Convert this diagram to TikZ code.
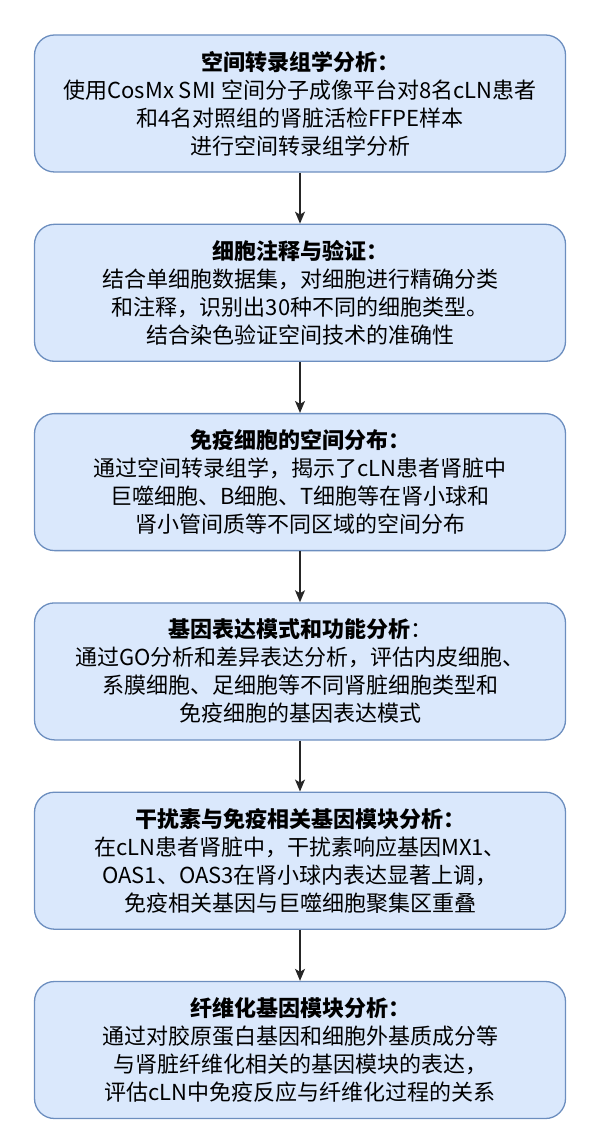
\documentclass[tikz,border=0pt]{standalone}
\usepackage{fontspec}
\setmainfont{Noto Sans CJK SC}
\usetikzlibrary{positioning,arrows.meta}
\definecolor{boxfill}{HTML}{DAE8FC}
\definecolor{boxline}{HTML}{6C8EBF}

\begin{document}
\begin{tikzpicture}[
        x=1pt, y=-1pt,
        stage/.style={rectangle, rounded corners=20pt, draw=boxline, line width=1.3pt, fill=boxfill,
            minimum width=531pt, minimum height=137pt, align=center,
            font=\fontsize{22}{28}\selectfont},
        flow/.style={-{Stealth[length=12pt, width=10pt, inset=3pt]}, line width=1.4pt, draw=black!85}
    ]
        \useasboundingbox (0,0) rectangle (600,1147);

        % Stages
        \node[stage] (spatial) at (300,103.5) {\textbf{空间转录组学分析：}\\使用CosMx SMI 空间分子成像平台对8名cLN患者\\和4名对照组的肾脏活检FFPE样本\\进行空间转录组学分析};
        \node[stage, below=51pt of spatial] (annot) {\textbf{细胞注释与验证：}\\结合单细胞数据集，对细胞进行精确分类\\和注释，识别出30种不同的细胞类型。\\结合染色验证空间技术的准确性};
        \node[stage, below=51pt of annot] (immune) {\textbf{免疫细胞的空间分布：}\\通过空间转录组学，揭示了cLN患者肾脏中\\巨噬细胞、B细胞、T细胞等在肾小球和\\肾小管间质等不同区域的空间分布};
        \node[stage, below=51pt of immune] (expr) {\textbf{基因表达模式和功能分析}：\\通过GO分析和差异表达分析，评估内皮细胞、\\系膜细胞、足细胞等不同肾脏细胞类型和\\免疫细胞的基因表达模式};
        \node[stage, below=51pt of expr] (ifn) {\textbf{干扰素与免疫相关基因模块分析：}\\在cLN患者肾脏中，干扰素响应基因MX1、\\OAS1、OAS3在肾小球内表达显著上调，\\免疫相关基因与巨噬细胞聚集区重叠};
        \node[stage, below=51pt of ifn] (fib) {\textbf{纤维化基因模块分析：}\\通过对胶原蛋白基因和细胞外基质成分等\\与肾脏纤维化相关的基因模块的表达，\\评估cLN中免疫反应与纤维化过程的关系};

        % Arrows
        \draw[flow] (spatial) -- (annot);
        \draw[flow] (annot) -- (immune);
        \draw[flow] (immune) -- (expr);
        \draw[flow] (expr) -- (ifn);
        \draw[flow] (ifn) -- (fib);

    \end{tikzpicture}
\end{document}
